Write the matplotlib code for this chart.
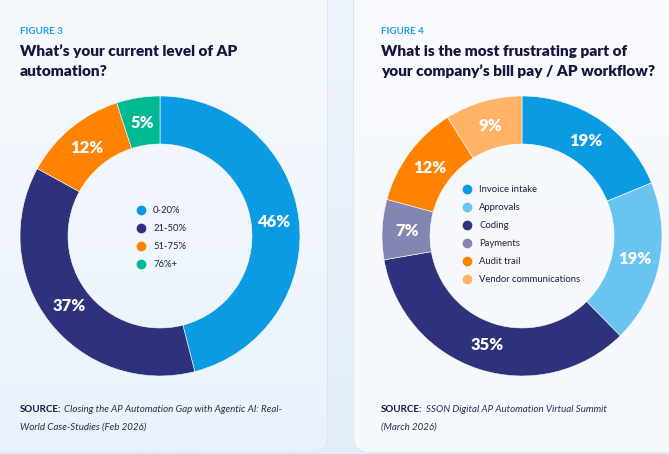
import numpy as np
import matplotlib
matplotlib.use("Agg")
import matplotlib.pyplot as plt
from matplotlib.patches import FancyBboxPatch
from matplotlib.lines import Line2D

plt.rcParams['font.family'] = ['Lato', 'DejaVu Sans']

# ---------------- data ----------------
fig3_categories = ["0-20%", "21-50%", "51-75%", "76%+"]
fig3_values = [46, 37, 12, 5]
fig3_colors = ["#0a9be3", "#2e327c", "#ff8300", "#00b894"]

fig4_categories = ["Invoice intake", "Approvals", "Coding", "Payments",
                   "Audit trail", "Vendor communications"]
fig4_values = [19, 19, 35, 7, 12, 9]
fig4_colors = ["#0a9be3", "#6ac4f0", "#2e327c", "#8385b2", "#ff8300", "#ffb366"]

fig3_label = "FIGURE 3"
fig3_title = ["What\u2019s your current level of AP", "automation?"]
fig3_source = ["Closing the AP Automation Gap with Agentic AI: Real-",
               "World Case-Studies (Feb 2026)"]

fig4_label = "FIGURE 4"
fig4_title = ["What is the most frustrating part of",
              "your company\u2019s bill pay / AP workflow?"]
fig4_source = ["SSON Digital AP Automation Virtual Summit", "(March 2026)"]

# ---------------- figure ----------------
W, H = 669, 454
fig = plt.figure(figsize=(W / 100, H / 100), dpi=100)
fig.patch.set_facecolor("#e4eff9")

def fx(px):
    return px / W

def fy(py):
    return 1 - py / H

# background axes with cards
bg = fig.add_axes([0, 0, 1, 1])
bg.set_xlim(0, W)
bg.set_ylim(H, 0)
bg.axis("off")
bg.imshow(np.linspace(0, 1, 256).reshape(-1, 1), extent=[0, W, H, 0],
          cmap=matplotlib.colors.LinearSegmentedColormap.from_list(
              "bgc", ["#eef4fb", "#e3eef9"]), aspect="auto", zorder=0)

for (x0, x1, c_top, c_bot) in [(-30, 327, "#f7fafd", "#e9f2fb"),
                               (354, 700, "#f8fafd", "#f5f8fc")]:
    shadow = FancyBboxPatch((x0 - 1, -30), x1 - x0 + 2, 452 + 30 + 1,
                            boxstyle="round,pad=0,rounding_size=16",
                            fc="#dde6f0", ec="none", zorder=1)
    bg.add_patch(shadow)
    card = FancyBboxPatch((x0, -30), x1 - x0, 452 + 30,
                          boxstyle="round,pad=0,rounding_size=16",
                          fc=c_top, ec="none", zorder=2)
    bg.add_patch(card)
    cmap = matplotlib.colors.LinearSegmentedColormap.from_list("cg", [c_top, c_bot])
    im = bg.imshow(np.linspace(0, 1, 256).reshape(-1, 1), extent=[x0, x1, 452, -30],
                   cmap=cmap, aspect="auto", zorder=3)
    im.set_clip_path(card)

# ---------------- donuts ----------------
def donut(left_px, values, colors, categories, legend_x_px, legend_y_px):
    R = 140
    cy = 236
    ax = fig.add_axes([fx(left_px), fy(cy + R), fx(2 * R), 2 * R / H])
    ax.set_facecolor("none")
    wedges, _ = ax.pie(values, colors=colors, startangle=90, counterclock=False,
                       radius=1, wedgeprops=dict(width=0.343, edgecolor="white",
                                                 linewidth=0.4))
    ax.set_xlim(-1, 1)
    ax.set_ylim(-1, 1)
    ax.set_aspect("auto")
    ax.axis("off")
    for w, v in zip(wedges, values):
        th = np.deg2rad((w.theta1 + w.theta2) / 2)
        r = 0.82
        ax.text(r * np.cos(th), r * np.sin(th), f"{v}%", color="white",
                fontsize=12, fontweight="heavy", ha="center", va="center")
    handles = [Line2D([], [], marker="o", linestyle="", markersize=6,
                      markerfacecolor=c, markeredgecolor=c) for c in colors]
    leg = ax.legend(handles, categories, loc="upper left",
                    bbox_to_anchor=(fx(legend_x_px), fy(legend_y_px)),
                    bbox_transform=fig.transFigure, frameon=False,
                    fontsize=6.8, labelspacing=0.95, handlelength=0.8,
                    handletextpad=0.9, borderpad=0, borderaxespad=0)
    for t in leg.get_texts():
        t.set_color("#1b1f3b")
    return ax

donut(20, fig3_values, fig3_colors, fig3_categories, 137, 206)
donut(382, fig4_values, fig4_colors, fig4_categories, 463, 185.5)

# ---------------- texts ----------------
def header(x, label, title, source):
    fig.text(fx(x), fy(34), label, color="#1d9fe3", fontsize=7,
             fontweight="bold", va="baseline", ha="left")
    for i, line in enumerate(title):
        fig.text(fx(x), fy(55.5 + 20.5 * i), line, color="#15173a", fontsize=11.1,
                 fontweight="heavy", va="baseline", ha="left")
    b = fig.text(fx(x), fy(412), "SOURCE:", color="#15173a", fontsize=7,
                 fontweight="bold", va="baseline", ha="left")
    fig.canvas.draw()
    r = fig.canvas.get_renderer()
    bb = b.get_window_extent(r)
    fig.text((bb.x1 + 3) / W, fy(412), source[0], color="#2a2d4a", fontsize=7,
             style="italic", va="baseline", ha="left")
    fig.text(fx(x), fy(430), source[1], color="#2a2d4a", fontsize=7,
             style="italic", va="baseline", ha="left")

header(20, fig3_label, fig3_title, fig3_source)
header(381, fig4_label, fig4_title, fig4_source)

fig.savefig("out.png", dpi=100, facecolor=fig.get_facecolor())
